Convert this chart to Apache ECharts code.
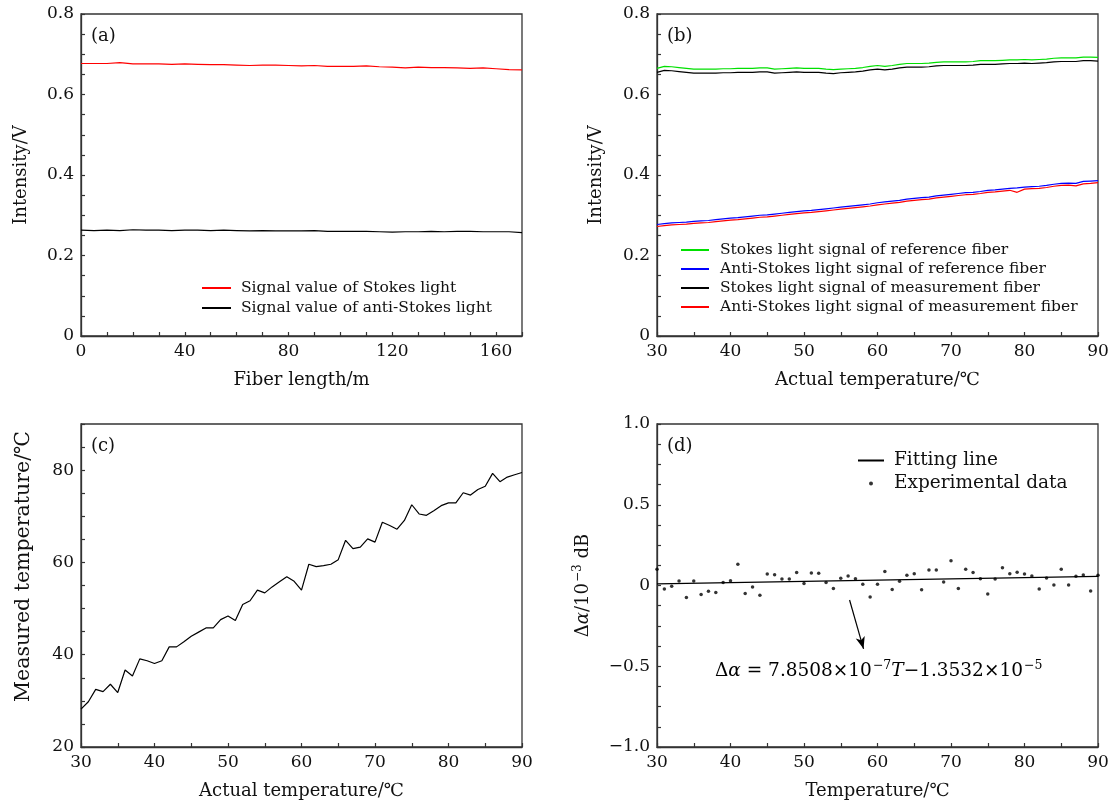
<!DOCTYPE html>
<html>
<head>
<meta charset="utf-8">
<script src="https://cdn.jsdelivr.net/npm/echarts@6/dist/echarts.min.js"></script>
<style>html,body{margin:0;padding:0;background:#fff;}#chart{width:1114px;height:805px;}</style>
</head>
<body>
<div id="chart"></div>
<script>
// ---------- Panel (a) ----------
const fiberLength = [0,5,10,15,20,25,30,35,40,45,50,55,60,65,70,75,80,85,90,95,100,105,110,115,120,125,130,135,140,145,150,155,160,165,170];
const stokesA = [0.677,0.677,0.677,0.679,0.676,0.676,0.676,0.675,0.676,0.675,0.674,0.674,0.673,0.672,0.673,0.673,0.672,0.671,0.672,0.670,0.670,0.670,0.671,0.669,0.668,0.666,0.668,0.667,0.667,0.666,0.665,0.666,0.664,0.662,0.661];
const antiStokesA = [0.263,0.262,0.263,0.262,0.264,0.263,0.263,0.262,0.263,0.263,0.262,0.263,0.262,0.261,0.262,0.261,0.261,0.261,0.262,0.260,0.260,0.260,0.260,0.259,0.258,0.259,0.259,0.260,0.259,0.260,0.260,0.259,0.259,0.259,0.257];

// ---------- Panel (b) ----------
const tempB = [30,31,32,33,34,35,36,37,38,39,40,41,42,43,44,45,46,47,48,49,50,51,52,53,54,55,56,57,58,59,60,61,62,63,64,65,66,67,68,69,70,71,72,73,74,75,76,77,78,79,80,81,82,83,84,85,86,87,88,89,90];
const stokesRef = [0.665,0.670,0.669,0.667,0.665,0.663,0.663,0.663,0.663,0.664,0.664,0.665,0.665,0.665,0.666,0.666,0.663,0.664,0.665,0.666,0.665,0.665,0.665,0.663,0.662,0.663,0.664,0.665,0.667,0.670,0.672,0.670,0.672,0.675,0.677,0.677,0.677,0.678,0.680,0.681,0.681,0.681,0.681,0.682,0.684,0.684,0.684,0.685,0.686,0.686,0.687,0.686,0.687,0.688,0.690,0.691,0.691,0.691,0.693,0.693,0.692];
const antiStokesRef = [0.277,0.279,0.281,0.282,0.283,0.285,0.286,0.287,0.289,0.291,0.293,0.294,0.296,0.298,0.300,0.301,0.303,0.305,0.307,0.309,0.311,0.312,0.314,0.316,0.318,0.320,0.322,0.324,0.326,0.328,0.331,0.333,0.335,0.337,0.340,0.342,0.344,0.345,0.348,0.350,0.352,0.354,0.356,0.357,0.359,0.362,0.363,0.365,0.367,0.368,0.370,0.371,0.372,0.374,0.377,0.379,0.380,0.379,0.384,0.385,0.386];
const stokesMea = [0.655,0.660,0.659,0.657,0.655,0.653,0.653,0.653,0.653,0.654,0.654,0.655,0.655,0.655,0.656,0.656,0.653,0.654,0.655,0.656,0.655,0.655,0.655,0.653,0.652,0.654,0.655,0.656,0.658,0.661,0.663,0.661,0.663,0.666,0.668,0.668,0.668,0.669,0.671,0.672,0.672,0.672,0.672,0.673,0.675,0.675,0.675,0.676,0.677,0.677,0.678,0.677,0.678,0.679,0.681,0.682,0.682,0.682,0.684,0.684,0.683];
const antiStokesMea = [0.272,0.274,0.276,0.277,0.278,0.280,0.281,0.282,0.284,0.286,0.288,0.289,0.291,0.293,0.295,0.296,0.298,0.300,0.302,0.304,0.306,0.307,0.309,0.311,0.313,0.315,0.317,0.319,0.321,0.323,0.326,0.328,0.330,0.332,0.335,0.337,0.339,0.340,0.343,0.345,0.347,0.349,0.351,0.352,0.354,0.357,0.358,0.360,0.362,0.357,0.365,0.366,0.367,0.369,0.372,0.374,0.375,0.373,0.378,0.379,0.381];

// ---------- Panel (c) ----------
const actualTemp = tempB;
const measuredTemp = [28.2,29.8,32.5,32.0,33.6,31.8,36.7,35.4,39.1,38.7,38.1,38.7,41.7,41.7,42.8,44.0,44.9,45.8,45.8,47.6,48.4,47.4,50.9,51.7,54.0,53.4,54.7,55.8,56.9,55.9,54.0,59.6,59.1,59.3,59.6,60.6,64.8,63.0,63.3,65.1,64.4,68.7,68.0,67.2,69.1,72.5,70.5,70.2,71.2,72.3,72.9,72.9,75.1,74.6,75.8,76.5,79.3,77.5,78.5,79.0,79.5];

// ---------- Panel (d) ----------
const tempD = tempB;
const deltaAlpha = [0.100,-0.022,-0.005,0.028,-0.075,0.028,-0.055,-0.036,-0.044,0.018,0.030,0.131,-0.050,-0.009,-0.061,0.071,0.067,0.040,0.040,0.080,0.013,0.078,0.076,0.018,-0.018,0.045,0.059,0.042,0.007,-0.071,0.007,0.086,-0.024,0.026,0.063,0.073,-0.026,0.096,0.096,0.022,0.154,-0.018,0.100,0.080,0.042,-0.053,0.040,0.110,0.073,0.082,0.071,0.059,-0.022,0.047,0.003,0.100,0.003,0.057,0.065,-0.034,0.063];
const fitTemp = [30, 90];
const fitValue = [0.0100, 0.0571];
const arrowStart = [56.2, -0.09];
const arrowEnd = [58.1, -0.392];

const FONT = 'DejaVu Serif';
const AX = '#333';
const TICKFS = 17;
const NAMEFS = 18;
const pairs = (xs, ys) => xs.map((x, i) => [x, ys[i]]);
const isMult = (v, m) => Math.abs(v / m - Math.round(v / m)) < 1e-6;
const fmtNum = (v, m, dec) => {
  if (!isMult(v, m)) return '';
  if (Math.abs(v) < 1e-9) return '0';
  const s = Math.abs(v).toFixed(dec);
  return (v < 0 ? '\u2212' : '') + s;
};

function xAxis(gi, min, max, step, major, name) {
  return {
    type: 'value', gridIndex: gi, min: min, max: max, interval: step,
    name: name, nameLocation: 'middle', nameGap: 35,
    nameTextStyle: {fontFamily: FONT, fontSize: NAMEFS, color: '#111'},
    axisLine: {show: true, onZero: false, lineStyle: {color: AX, width: 1.3}},
    axisTick: {show: true, inside: true, length: 4, lineStyle: {color: AX, width: 1.2}},
    axisLabel: {fontFamily: FONT, fontSize: TICKFS, color: '#111', margin: 7,
      formatter: v => fmtNum(v, major, 0)},
    splitLine: {show: false}
  };
}
function yAxis(gi, min, max, step, major, dec, name, gap, rich, nameStyle) {
  const o = {
    type: 'value', gridIndex: gi, min: min, max: max, interval: step,
    name: name, nameLocation: 'middle', nameGap: gap,
    nameTextStyle: Object.assign({fontFamily: FONT, fontSize: NAMEFS, color: '#111'}, nameStyle || {}),
    axisLine: {show: true, onZero: false, lineStyle: {color: AX, width: 1.3}},
    axisTick: {show: true, inside: true, length: 4, lineStyle: {color: AX, width: 1.2}},
    axisLabel: {fontFamily: FONT, fontSize: TICKFS, color: '#111', margin: 7,
      formatter: v => fmtNum(v, major, dec)},
    splitLine: {show: false}
  };
  if (rich) o.nameTextStyle.rich = rich;
  return o;
}
const gridBase = {show: true, borderColor: AX, borderWidth: 1.3, backgroundColor: 'transparent', containLabel: false};

const nameRich = {
  n: {fontFamily: FONT, fontSize: NAMEFS, color: '#111'},
  i: {fontFamily: FONT, fontSize: NAMEFS, fontStyle: 'italic', color: '#111'},
  s: {fontFamily: FONT, fontSize: 12, color: '#111', padding: [0, 0, 11, 1]}
};
const eqRich = {
  n: {fontFamily: FONT, fontSize: 18.5, color: '#111'},
  i: {fontFamily: FONT, fontSize: 18.5, fontStyle: 'italic', color: '#111'},
  s: {fontFamily: FONT, fontSize: 12.5, color: '#111', padding: [0, 0, 11, 1]}
};

const lineS = (name, xi, data, color) => ({
  name: name, type: 'line', xAxisIndex: xi, yAxisIndex: xi, data: data,
  showSymbol: false, symbol: 'none', lineStyle: {color: color, width: 1.2}, itemStyle: {color: color},
  animation: false
});

const legendText = (fs, pad) => ({fontFamily: FONT, fontSize: fs, color: '#111', padding: [0, 0, 0, pad]});
const hideSym = {opacity: 0};

const option = {
  backgroundColor: '#fff',
  animation: false,
  grid: [
    Object.assign({left: 81, top: 14, width: 441, height: 322}, gridBase),
    Object.assign({left: 657, top: 14, width: 441, height: 322}, gridBase),
    Object.assign({left: 81, top: 424, width: 441, height: 323}, gridBase),
    Object.assign({left: 657, top: 424, width: 441, height: 323}, gridBase)
  ],
  xAxis: [
    xAxis(0, 0, 170, 10, 40, 'Fiber length/m'),
    xAxis(1, 30, 90, 5, 10, 'Actual temperature/\u2103'),
    xAxis(2, 30, 90, 5, 10, 'Actual temperature/\u2103'),
    xAxis(3, 30, 90, 5, 10, 'Temperature/\u2103')
  ],
  yAxis: [
    yAxis(0, 0, 0.8, 0.05, 0.2, 1, 'Intensity/V', 51),
    yAxis(1, 0, 0.8, 0.05, 0.2, 1, 'Intensity/V', 52),
    yAxis(2, 20, 90, 5, 20, 0, 'Measured temperature/\u2103', 47, null, {fontSize: 20.5, padding: [0, 0, 0, 38]}),
    yAxis(3, -1, 1, 0.125, 0.5, 1, '{n|\u0394}{i|\u03b1}{n|/10}{s|\u22123}{n| dB}', 62, nameRich)
  ],
  legend: [
    {orient: 'vertical', left: 201, top: 280, padding: 0, itemWidth: 29, itemHeight: 4, itemGap: 4,
     selectedMode: false, textStyle: legendText(15.5, 5), itemStyle: hideSym,
     data: ['Signal value of Stokes light', 'Signal value of anti-Stokes light']},
    {orient: 'vertical', left: 680, top: 242, padding: 0, itemWidth: 28, itemHeight: 4, itemGap: 3,
     selectedMode: false, textStyle: legendText(15.5, 6), itemStyle: hideSym,
     data: ['Stokes light signal of reference fiber', 'Anti-Stokes light signal of reference fiber',
            'Stokes light signal of measurement fiber', 'Anti-Stokes light signal of measurement fiber']},
    {orient: 'vertical', left: 857, top: 451, padding: 0, itemWidth: 26, itemHeight: 4, itemGap: 4,
     selectedMode: false, textStyle: legendText(18.5, 5),
     data: [{name: 'Fitting line', itemStyle: hideSym}, {name: 'Experimental data'}]}
  ],
  series: [
    lineS('Signal value of Stokes light', 0, pairs(fiberLength, stokesA), '#ff0000'),
    lineS('Signal value of anti-Stokes light', 0, pairs(fiberLength, antiStokesA), '#000000'),
    lineS('Stokes light signal of reference fiber', 1, pairs(tempB, stokesRef), '#00e000'),
    lineS('Anti-Stokes light signal of reference fiber', 1, pairs(tempB, antiStokesRef), '#0000ff'),
    lineS('Stokes light signal of measurement fiber', 1, pairs(tempB, stokesMea), '#000000'),
    lineS('Anti-Stokes light signal of measurement fiber', 1, pairs(tempB, antiStokesMea), '#ff0000'),
    lineS('Measured', 2, pairs(actualTemp, measuredTemp), '#000000'),
    Object.assign(lineS('Fitting line', 3, pairs(fitTemp, fitValue), '#000000'), {
      markLine: {
        silent: true, symbol: ['none', 'arrow'], symbolSize: [7, 12],
        lineStyle: {color: '#000', width: 1.2, type: 'solid'},
        label: {show: false},
        data: [[{coord: arrowStart}, {coord: arrowEnd}]]
      }
    }),
    {name: 'Experimental data', type: 'scatter', xAxisIndex: 3, yAxisIndex: 3,
     data: pairs(tempD, deltaAlpha), symbol: 'circle', symbolSize: 3.5,
     itemStyle: {color: '#000'}, animation: false}
  ],
  graphic: [
    {type: 'text', left: 91, top: 27, style: {text: '(a)', font: '18px "DejaVu Serif"', fill: '#111'}},
    {type: 'text', left: 667, top: 27, style: {text: '(b)', font: '18px "DejaVu Serif"', fill: '#111'}},
    {type: 'text', left: 91, top: 437, style: {text: '(c)', font: '18px "DejaVu Serif"', fill: '#111'}},
    {type: 'text', left: 667, top: 437, style: {text: '(d)', font: '18px "DejaVu Serif"', fill: '#111'}},
    {type: 'text', left: 715, top: 659, style: {
      text: '{n|\u0394}{i|\u03b1}{n| = 7.8508\u00d710}{s|\u22127}{i|T}{n|\u22121.3532\u00d710}{s|\u22125}',
      rich: eqRich
    }}
  ]
};

const chart = echarts.init(document.getElementById('chart'), null, {renderer: 'canvas'});
chart.setOption(option);
</script>
</body>
</html>
